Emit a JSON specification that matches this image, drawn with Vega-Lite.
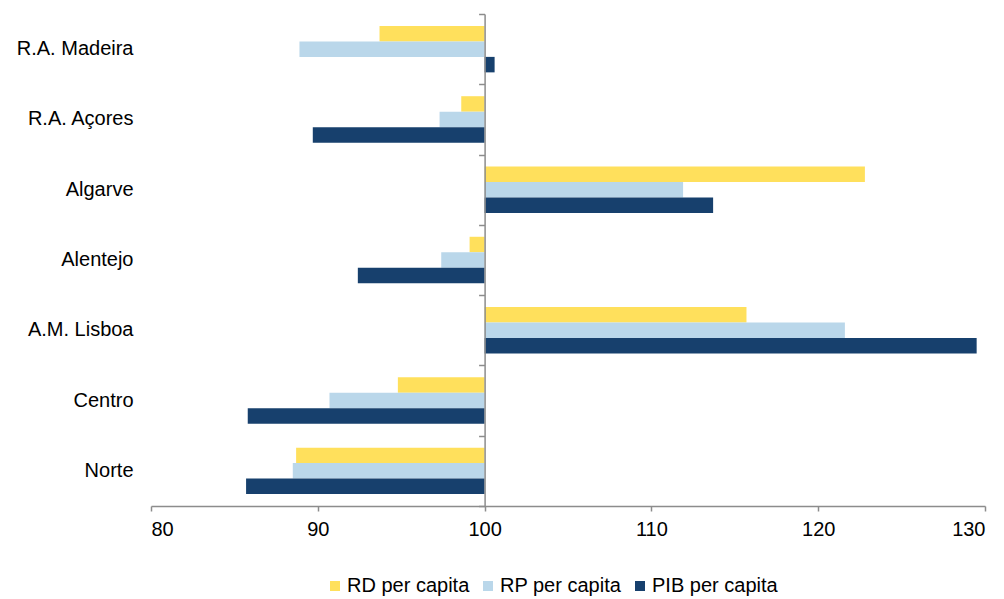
{
  "$schema": "https://vega.github.io/schema/vega-lite/v6.json",
  "autosize": "none",
  "width": 834,
  "height": 492,
  "padding": {"left": 151, "top": 14, "right": 19, "bottom": 93},
  "background": "white",
  "config": {
    "view": {"stroke": null},
    "font": "Liberation Sans",
    "axis": {"labelFont": "Liberation Sans", "labelColor": "#000000", "labelFontSize": 20},
    "legend": {"labelFont": "Liberation Sans", "labelColor": "#000000", "labelFontSize": 20}
  },
  "data": {
    "values": [
      {"region": "R.A. Madeira", "series": "RD per capita", "value": 93.7},
      {"region": "R.A. Madeira", "series": "RP per capita", "value": 88.9},
      {"region": "R.A. Madeira", "series": "PIB per capita", "value": 100.6},
      {"region": "R.A. Açores", "series": "RD per capita", "value": 98.6},
      {"region": "R.A. Açores", "series": "RP per capita", "value": 97.3},
      {"region": "R.A. Açores", "series": "PIB per capita", "value": 89.7},
      {"region": "Algarve", "series": "RD per capita", "value": 122.8},
      {"region": "Algarve", "series": "RP per capita", "value": 111.9},
      {"region": "Algarve", "series": "PIB per capita", "value": 113.7},
      {"region": "Alentejo", "series": "RD per capita", "value": 99.1},
      {"region": "Alentejo", "series": "RP per capita", "value": 97.4},
      {"region": "Alentejo", "series": "PIB per capita", "value": 92.4},
      {"region": "A.M. Lisboa", "series": "RD per capita", "value": 115.7},
      {"region": "A.M. Lisboa", "series": "RP per capita", "value": 121.6},
      {"region": "A.M. Lisboa", "series": "PIB per capita", "value": 129.5},
      {"region": "Centro", "series": "RD per capita", "value": 94.8},
      {"region": "Centro", "series": "RP per capita", "value": 90.7},
      {"region": "Centro", "series": "PIB per capita", "value": 85.8},
      {"region": "Norte", "series": "RD per capita", "value": 88.7},
      {"region": "Norte", "series": "RP per capita", "value": 88.5},
      {"region": "Norte", "series": "PIB per capita", "value": 85.7}
    ]
  },
  "layer": [
    {
      "mark": {"type": "bar"},
      "encoding": {
        "y": {
          "field": "region",
          "type": "nominal",
          "sort": ["R.A. Madeira", "R.A. Açores", "Algarve", "Alentejo", "A.M. Lisboa", "Centro", "Norte"],
          "scale": {"paddingInner": 0, "paddingOuter": 0},
          "axis": {"title": null, "domain": false, "ticks": false, "tickSize": 0, "labelPadding": 18}
        },
        "yOffset": {
          "field": "series",
          "type": "nominal",
          "sort": ["RD per capita", "RP per capita", "PIB per capita"],
          "scale": {"paddingInner": 0, "paddingOuter": 0.77}
        },
        "x": {
          "field": "value",
          "type": "quantitative",
          "scale": {"domain": [80, 130], "nice": false, "zero": false},
          "axis": {
            "title": null,
            "grid": false,
            "values": [80, 90, 100, 110, 120, 130],
            "domainColor": "#8c8c8c",
            "domainWidth": 1.5,
            "tickColor": "#8c8c8c",
            "tickWidth": 1.5,
            "tickSize": 5,
            "labelPadding": 8
          }
        },
        "x2": {"datum": 100},
        "color": {
          "field": "series",
          "type": "nominal",
          "scale": {
            "domain": ["RD per capita", "RP per capita", "PIB per capita"],
            "range": ["#FFE05C", "#BAD7EA", "#17406D"]
          },
          "legend": {
            "title": null,
            "orient": "none",
            "direction": "horizontal",
            "legendX": 174,
            "legendY": 562,
            "symbolType": "square",
            "symbolSize": 100,
            "symbolStrokeWidth": 0,
            "labelOffset": 2,
            "columnPadding": 8
          }
        }
      }
    },
    {
      "mark": {"type": "rule", "strokeWidth": 0},
      "encoding": {
        "y": {
          "field": "region",
          "type": "nominal",
          "sort": ["R.A. Madeira", "R.A. Açores", "Algarve", "Alentejo", "A.M. Lisboa", "Centro", "Norte"],
          "axis": {
            "orient": "left",
            "offset": -333.6,
            "title": null,
            "labels": false,
            "domain": true,
            "ticks": true,
            "tickBand": "extent",
            "tickSize": 6,
            "tickWidth": 1.5,
            "domainWidth": 1.5,
            "domainColor": "#8c8c8c",
            "tickColor": "#8c8c8c",
            "zindex": 1
          }
        },
        "x": {"datum": 100, "type": "quantitative"}
      }
    }
  ],
  "resolve": {"axis": {"y": "independent"}}
}
